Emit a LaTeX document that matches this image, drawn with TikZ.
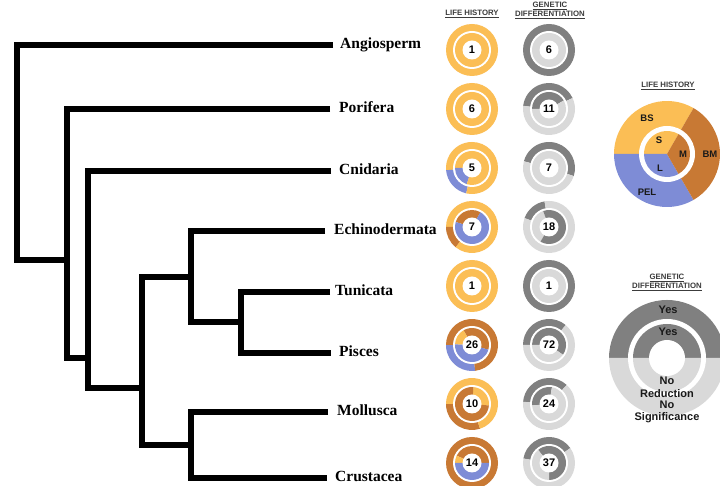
\documentclass[tikz,border=0pt]{standalone}
\usepackage{fontspec}
\setmainfont{Liberation Serif}
\setsansfont{Liberation Sans}
\definecolor{lhY}{RGB}{251,190,85}
\definecolor{lhBr}{RGB}{200,121,52}
\definecolor{lhB}{RGB}{126,140,214}
\definecolor{gdD}{RGB}{128,128,128}
\definecolor{gdL}{RGB}{217,217,217}
\definecolor{titlegray}{RGB}{60,60,60}

% ring chart: #1 x, #2 y, #3 outer sectors, #4 inner sectors, #5 node name, #6 count
\newcommand{\donut}[6]{%
  \begin{scope}[shift={(#1,#2)}]
    \foreach \a/\b/\c in {#3}
      \fill[\c] (0,0) -- (\a:26) arc[start angle=\a, end angle=\b, radius=26] -- cycle;
    \fill[white] (0,0) circle[radius=19];
    \foreach \a/\b/\c in {#4}
      \fill[\c] (0,0) -- (\a:17) arc[start angle=\a, end angle=\b, radius=17] -- cycle;
    \fill[white] (0,0) circle[radius=9.5];
    \node[numtext] (#5) at (0,0) {#6};
  \end{scope}}

\tikzset{
  branch/.style={line width=6pt, line join=miter, line cap=butt, black},
  taxon/.style={font=\bfseries\fontsize{15.5}{15.5}\selectfont, anchor=west,
    inner sep=0pt, text height=0.66em, text depth=0pt},
  numtext/.style={font=\sffamily\bfseries\fontsize{11}{11}\selectfont,
    inner sep=0pt, text height=0.72em, text depth=0pt},
  legtext/.style={font=\sffamily\bfseries\fontsize{9.5}{9.5}\selectfont,
    inner sep=0pt, text height=0.72em, text depth=0pt, text=black!90},
  gdtext/.style={font=\sffamily\bfseries\fontsize{11}{11}\selectfont,
    inner sep=0pt, text height=0.72em, text depth=0pt, text=black!90},
  coltitle/.style={font=\sffamily\bfseries\fontsize{7.8}{8.5}\selectfont,
    text=titlegray, align=center, inner sep=0pt},
}

\begin{document}
\begin{tikzpicture}[x=1pt, y=1pt]
\useasboundingbox (0,0) rectangle (720,486);
\clip (0,0) rectangle (720,486);
\fill[white] (0,0) rectangle (720,486);

% ---------- tree ----------
\coordinate (angioEnd) at (333,441);
\coordinate (porEnd)   at (330,377);
\coordinate (cniEnd)   at (331,315);
\coordinate (echEnd)   at (325,255);
\coordinate (tunEnd)   at (330,194);
\coordinate (pisEnd)   at (331,133);
\coordinate (molEnd)   at (328,74);
\coordinate (cruEnd)   at (327,8);

\coordinate (r0) at (17,441);  \coordinate (r1) at (17,226);
\coordinate (p0) at (67,377);  \coordinate (pj) at (67,226);  \coordinate (p1) at (67,128);
\coordinate (c0) at (88,315);  \coordinate (cj) at (88,128);  \coordinate (c1) at (88,98);
\coordinate (b0) at (142,209); \coordinate (bj) at (142,98);  \coordinate (b1) at (142,41);
\coordinate (d0) at (191,255); \coordinate (dj) at (191,209); \coordinate (d1) at (191,164);
\coordinate (o0) at (241,194); \coordinate (oj) at (241,164); \coordinate (o1) at (241,133);
\coordinate (m0) at (191,74);  \coordinate (mj) at (191,41);  \coordinate (m1) at (191,8);

\draw[branch] (angioEnd) -- (r0) -- (r1) -- (pj);
\draw[branch] (porEnd) -- (p0) -- (p1) -- (cj);
\draw[branch] (cniEnd) -- (c0) -- (c1) -- (bj);
\draw[branch] (dj) -- (b0) -- (b1) -- (mj);
\draw[branch] (echEnd) -- (d0) -- (d1) -- (oj);
\draw[branch] (tunEnd) -- (o0) -- (o1) -- (pisEnd);
\draw[branch] (molEnd) -- (m0) -- (m1) -- (cruEnd);

\node[taxon] (tAngio) at ([xshift=7pt]angioEnd) {Angiosperm};
\node[taxon] (tPor)   at ([xshift=9pt]porEnd)   {Porifera};
\node[taxon] (tCni)   at ([xshift=8pt]cniEnd)   {Cnidaria};
\node[taxon] (tEch)   at ([xshift=9pt]echEnd)   {Echinodermata};
\node[taxon] (tTun)   at ([xshift=5pt]tunEnd)   {Tunicata};
\node[taxon] (tPis)   at ([xshift=8pt]pisEnd)   {Pisces};
\node[taxon] (tMol)   at ([xshift=9pt]molEnd)   {Mollusca};
\node[taxon] (tCru)   at ([xshift=8pt]cruEnd)   {Crustacea};

% ---------- column headings ----------
\node[coltitle] (hLH) at (472,472) {\underline{LIFE HISTORY}};
\node[coltitle] (hGD) at (550,475.5) {\underline{GENETIC}\\\underline{DIFFERENTIATION}};

% ---------- life history rings ----------
\donut{472}{436}{0/360/lhY}{0/360/lhY}{lh1}{1}
\donut{472}{377}{0/360/lhY}{0/360/lhY}{lh2}{6}
\donut{472}{318}{0/185/lhY, 185/257/lhB, 257/360/lhY}{0/180/lhY, 180/252/lhB, 252/360/lhY}{lh3}{5}
\donut{472}{259}{0/180/lhY, 180/231/lhBr, 231/360/lhY}{60/163/lhBr, 163/420/lhB}{lh4}{7}
\donut{472}{200}{0/360/lhY}{0/360/lhY}{lh5}{1}
\donut{472}{141}{180/277/lhB, 277/540/lhBr}{-16/120/lhBr, 120/178/lhY, 178/344/lhB}{lh6}{26}
\donut{472}{82}{180/288/lhBr, 288/540/lhY}{-5/85/lhY, 85/355/lhBr}{lh7}{10}
\donut{472}{23}{0/360/lhBr}{0/154/lhBr, 154/180/lhY, 180/360/lhB}{lh8}{14}

% ---------- genetic differentiation rings ----------
\donut{549}{436}{0/360/gdD}{0/360/gdL}{gd1}{6}
\donut{549}{377}{25/173/gdD, 173/385/gdL}{30/180/gdD, 180/390/gdL}{gd2}{11}
\donut{549}{318}{-18/165/gdD, 165/342/gdL}{0/360/gdL}{gd3}{7}
\donut{549}{259}{100/160/gdD, 160/460/gdL}{110/240/gdL, 240/470/gdD}{gd4}{18}
\donut{549}{200}{0/360/gdD}{0/360/gdL}{gd5}{1}
\donut{549}{141}{50/180/gdD, 180/410/gdL}{-35/180/gdD, 180/325/gdL}{gd6}{72}
\donut{549}{82}{47/175/gdD, 175/407/gdL}{80/185/gdD, 185/440/gdL}{gd7}{24}
\donut{549}{23}{35/170/gdD, 170/395/gdL}{-90/130/gdD, 130/270/gdL}{gd8}{37}

% ---------- life history key ----------
\node[coltitle] (kLH) at (668,400) {\underline{LIFE HISTORY}};
\begin{scope}[shift={(667,332)}]
  \fill[lhY]  (0,0) -- (60:53)  arc[start angle=60,  end angle=180, radius=53] -- cycle;
  \fill[lhB]  (0,0) -- (180:53) arc[start angle=180, end angle=300, radius=53] -- cycle;
  \fill[lhBr] (0,0) -- (300:53) arc[start angle=300, end angle=420, radius=53] -- cycle;
  \fill[white] (0,0) circle[radius=28];
  \fill[lhY]  (0,0) -- (60:23)  arc[start angle=60,  end angle=180, radius=23] -- cycle;
  \fill[lhB]  (0,0) -- (180:23) arc[start angle=180, end angle=300, radius=23] -- cycle;
  \fill[lhBr] (0,0) -- (300:23) arc[start angle=300, end angle=420, radius=23] -- cycle;
\end{scope}
\node[legtext] (kBS)  at (647,368) {BS};
\node[legtext] (kS)   at (659,346) {S};
\node[legtext] (kM)   at (683,332) {M};
\node[legtext] (kBM)  at (710,332) {BM};
\node[legtext] (kL)   at (660,318) {L};
\node[legtext] (kPEL) at (647,294) {PEL};

% ---------- genetic differentiation key ----------
\node[coltitle] (kGD) at (667,203.5) {\underline{GENETIC}\\\underline{DIFFERENTIATION}};
\begin{scope}[shift={(667,128)}]
  \fill[gdD] (0,0) -- (0:58) arc[start angle=0, end angle=180, radius=58] -- cycle;
  \fill[gdL] (0,0) -- (180:58) arc[start angle=180, end angle=360, radius=58] -- cycle;
  \fill[white] (0,0) circle[radius=39];
  \fill[gdD] (0,0) -- (0:34) arc[start angle=0, end angle=180, radius=34] -- cycle;
  \fill[gdL] (0,0) -- (180:34) arc[start angle=180, end angle=360, radius=34] -- cycle;
  \fill[white] (0,0) circle[radius=18];
\end{scope}
\node[gdtext] (kYes1) at (668,176) {Yes};
\node[gdtext] (kYes2) at (668,154) {Yes};
\node[gdtext] (kNo1)  at (667,105) {No};
\node[gdtext] (kRed)  at (667,92)  {Reduction};
\node[gdtext] (kNo2)  at (667,81)  {No};
\node[gdtext] (kSig)  at (667,69)  {Significance};
\end{tikzpicture}
\end{document}
